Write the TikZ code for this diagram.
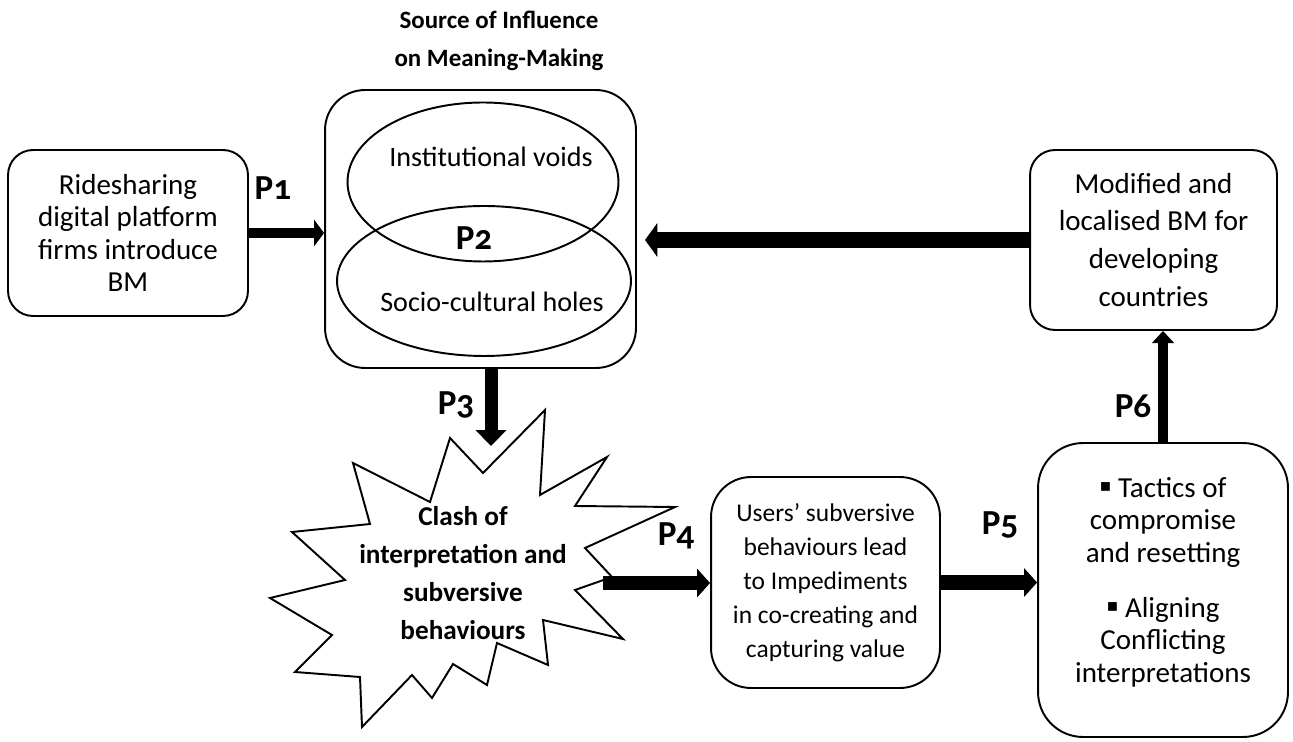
\documentclass[tikz,border=0pt]{standalone}
\usepackage{fontspec}
\setmainfont{Carlito}[Numbers=OldStyle]
\newfontfamily\symfont{DejaVu Sans}
\usetikzlibrary{arrows.meta,shapes.geometric}

\begin{document}
\begin{tikzpicture}[x=0.02cm, y=-0.02cm,
  box/.style={draw, line width=1.1pt, rounded corners=0.5cm, align=center, inner sep=0pt,
    font=\fontsize{16.5}{18.5}\selectfont},
  oval/.style={draw, line width=1.1pt, ellipse, inner sep=0pt},
  plabel/.style={font=\fontsize{20}{22}\selectfont\bfseries},
  flow/.style={line width=8pt, -{Triangle[length=7.4pt,width=16pt]}}]
\useasboundingbox (0,0) rectangle (1293,742);
\node[box, minimum width=4.8cm, minimum height=3.32cm] (ride) at (128,233)
  {Ridesharing\\digital platform\\firms introduce\\BM};
\node[font=\fontsize{14.2}{21.6}\selectfont\bfseries, align=center] (title) at (499,41)
  {Source of Influence\\on Meaning-Making};
\node[box, rounded corners=0.8cm, minimum width=6.22cm, minimum height=5.56cm] (source) at (480.5,229) {};
\node[oval, minimum width=5.42cm, minimum height=3.18cm] (voids) at (483,182) {};
\node[oval, minimum width=5.88cm, minimum height=3.0cm] (holes) at (484,281) {};
\node[font=\fontsize{16}{18.5}\selectfont] (voidstext) at (491,157) {Institutional voids};
\node[font=\fontsize{16}{18.5}\selectfont] (holestext) at (492,302) {Socio-cultural holes};
\node[box, minimum width=4.94cm, minimum height=3.6cm, font=\fontsize{16.5}{21.6}\selectfont] (modified) at (1153.5,240)
  {Modified and\\localised BM for\\developing\\countries};
\node[box, rounded corners=0.8cm, minimum width=4.58cm, minimum height=4.22cm, font=\fontsize{14.5}{19.4}\selectfont] (users) at (825.5,582.5)
  {Users’ subversive\\behaviours lead\\to Impediments\\in co-creating and\\capturing value};
\node[box, rounded corners=0.9cm, minimum width=5.0cm, minimum height=5.88cm] (tactics) at (1163,590) {};
\node[font=\fontsize{16.5}{18.5}\selectfont, align=center] (tacticstext) at (1163,582)
  {\raisebox{0.18em}{\symfont\fontsize{10}{10}\selectfont ▪} Tactics of\\compromise\\and resetting\\[12.8pt]\raisebox{0.18em}{\symfont\fontsize{10}{10}\selectfont ▪} Aligning\\Conflicting\\interpretations};
\draw[line width=1.1pt, fill=white] (450,438) -- (483,473) -- (545,410) -- (540,495) -- (607,457)
  -- (575,506) -- (675,507) -- (585,548) -- (612,577) -- (575,590) -- (623,639) -- (543,620)
  -- (548,665) -- (497,643) -- (487,685) -- (453,664) -- (432,698) -- (412,675) -- (362,727)
  -- (360,677) -- (295,672) -- (332,635) -- (270,598) -- (345,580) -- (292,532) -- (370,524)
  -- (353,463) -- (430,502) -- cycle;
\node[font=\fontsize{15.5}{21.6}\selectfont\bfseries, align=center] (clash) at (463,573)
  {Clash of\\interpretation and\\subversive\\behaviours};
\coordinate (burstN) at (491,446);
\coordinate (burstE) at (603,583);
\coordinate (backtip) at (645,237);
\draw[flow, line width=5.7pt, -{Triangle[length=5.7pt,width=15pt]}] (ride.east) -- (ride.east -| source.west);
\draw[flow, line width=9pt, -{Triangle[length=7pt,width=19pt]}] (modified.west) -- (modified.west -| backtip);
\draw[flow, line width=7.4pt, -{Triangle[length=9pt,width=17pt]}] (source.south -| burstN) -- (burstN);
\draw[flow] (burstE) -- (burstE -| users.west);
\draw[flow] (users.east) -- (users.east -| tactics.west);
\draw[flow, line width=5.7pt, -{Triangle[length=7pt,width=12.5pt]}] (tactics.north) -- (tactics.north |- modified.south);
\node[plabel] (p1) at (273,188) {P1};
\node[plabel] (p2) at (474,238) {P2};
\node[plabel] (p3) at (456,405) {P3};
\node[plabel] (p4) at (676,536) {P4};
\node[plabel] (p5) at (1000,525) {P5};
\node[plabel] (p6) at (1133,406) {P6};
\end{tikzpicture}
\end{document}
